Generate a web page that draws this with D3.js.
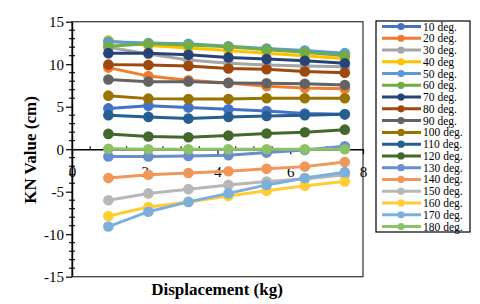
<!DOCTYPE html>
<html>
<head>
<meta charset="utf-8">
<script src="https://cdn.jsdelivr.net/npm/d3@7"></script>
<style>
  body { margin: 0; background: #fff; }
  text { font-family: "Liberation Serif", "Times New Roman", serif; }
</style>
</head>
<body>
<div id="chart"></div>
<script>
// displacement positions (kg)
var displacement = [1, 2.1, 3.2, 4.3, 5.35, 6.4, 7.5];

var seriesNames = ["10 deg.", "20 deg.", "30 deg.", "40 deg", "50 deg.", "60 deg.",
  "70 deg.", "80 deg.", "90 deg.", "100 deg.", "110 deg.", "120 deg.",
  "130 deg.", "140 deg.", "150 deg.", "160 deg.", "170 deg.", "180 deg."];

var seriesColors = ["#4472C4", "#ED7D31", "#A5A5A5", "#FFC000", "#5B9BD5", "#70AD47",
  "#264478", "#9E480E", "#636363", "#997300", "#255E91", "#43682B",
  "#698ED0", "#F1975A", "#B7B7B7", "#FFCD33", "#7CAFDD", "#8CC168"];

var deg10  = [4.8, 5.1, 4.9, 4.7, 4.5, 4.2, 4.1];
var deg20  = [9.6, 8.6, 8.1, 7.8, 7.4, 7.2, 7.1];
var deg30  = [12.0, 11.2, 10.5, 10.1, 9.9, 9.8, 9.7];
var deg40  = [12.8, 12.2, 11.9, 11.6, 11.3, 11.0, 10.65];
var deg50  = [12.65, 12.5, 12.4, 12.1, 11.85, 11.6, 11.3];
var deg60  = [12.1, 12.4, 12.25, 12.05, 11.7, 11.4, 11.0];
var deg70  = [11.3, 11.3, 11.1, 10.8, 10.6, 10.4, 10.1];
var deg80  = [9.95, 9.9, 9.8, 9.5, 9.4, 9.15, 9.0];
var deg90  = [8.2, 7.95, 7.95, 7.8, 7.75, 7.7, 7.55];
var deg100 = [6.3, 5.95, 5.9, 5.9, 6.0, 6.0, 6.0];
var deg110 = [4.0, 3.8, 3.6, 3.8, 3.9, 4.0, 4.1];
var deg120 = [1.8, 1.5, 1.4, 1.6, 1.85, 2.0, 2.3];
var deg130 = [-0.85, -0.85, -0.8, -0.7, -0.4, -0.1, 0.35];
var deg140 = [-3.4, -3.0, -2.8, -2.6, -2.3, -2.05, -1.5];
var deg150 = [-6.0, -5.2, -4.7, -4.2, -3.8, -3.5, -3.0];
var deg160 = [-7.85, -6.8, -6.2, -5.5, -4.9, -4.3, -3.8];
var deg170 = [-9.1, -7.35, -6.2, -5.2, -4.2, -3.4, -2.7];
var deg180 = [0.05, 0, 0, 0, 0, 0, 0];

var allValues = [deg10, deg20, deg30, deg40, deg50, deg60, deg70, deg80, deg90,
  deg100, deg110, deg120, deg130, deg140, deg150, deg160, deg170, deg180];

var xTicks = [0, 2, 4, 6, 8];
var yTicks = [-15, -10, -5, 0, 5, 10, 15];

var series = seriesNames.map(function(name, i) {
  return {
    name: name,
    color: seriesColors[i],
    points: displacement.map(function(d, j) { return {x: d, y: allValues[i][j]}; })
  };
});

var svg = d3.select("#chart").append("svg")
  .attr("width", 480)
  .attr("height", 304);

var plotLeft = 72, plotRight = 363, plotTop = 21.7, plotBottom = 276.7;

var x = d3.scaleLinear().domain([0, 8]).range([plotLeft, plotRight]);
var y = d3.scaleLinear().domain([-15, 15]).range([plotBottom, plotTop]);

// plot frame
svg.append("rect")
  .attr("x", plotLeft).attr("y", plotTop)
  .attr("width", plotRight - plotLeft).attr("height", plotBottom - plotTop)
  .attr("fill", "none")
  .attr("stroke", "#404040")
  .attr("stroke-width", 1.3);

// y axis
var yAxis = svg.append("g")
  .attr("transform", "translate(" + plotLeft + ",0)")
  .call(d3.axisLeft(y).tickValues(yTicks).tickSize(6).tickSizeOuter(0).tickPadding(2)
    .tickFormat(d3.format("d")));
yAxis.select(".domain").attr("stroke", "#000").attr("stroke-width", 1.5);
yAxis.selectAll(".tick line").attr("stroke", "#000").attr("stroke-width", 1.2);
yAxis.selectAll("text")
  .attr("font-family", "Liberation Serif")
  .attr("font-size", 15)
  .attr("fill", "#000")
  .text(function(d) { return d < 0 ? "-" + Math.abs(d) : d; });

// y minor ticks
svg.append("g").selectAll("line")
  .data(d3.range(-15, 16, 1).filter(function(v) { return v % 5 !== 0; }))
  .enter().append("line")
  .attr("x1", plotLeft - 3).attr("x2", plotLeft + 3)
  .attr("y1", function(d) { return y(d); })
  .attr("y2", function(d) { return y(d); })
  .attr("stroke", "#000")
  .attr("stroke-width", 1.1);

// x axis at zero
var xAxis = svg.append("g")
  .attr("transform", "translate(0," + y(0) + ")")
  .call(d3.axisBottom(x).tickValues(xTicks).tickSize(5).tickSizeOuter(0).tickPadding(12));
xAxis.select(".domain").attr("stroke", "#000").attr("stroke-width", 1.5);
xAxis.selectAll(".tick line").attr("stroke", "#000").attr("stroke-width", 1.2);
xAxis.selectAll("text")
  .attr("font-family", "Liberation Serif")
  .attr("font-size", 15)
  .attr("fill", "#000");

// x minor ticks
svg.append("g").selectAll("line")
  .data(d3.range(0.5, 8, 0.5).filter(function(v) { return v % 2 !== 0; }))
  .enter().append("line")
  .attr("x1", function(d) { return x(d); })
  .attr("x2", function(d) { return x(d); })
  .attr("y1", y(0) - 3).attr("y2", y(0))
  .attr("stroke", "#000")
  .attr("stroke-width", 1.1);

// lines and markers
var line = d3.line()
  .x(function(d) { return x(d.x); })
  .y(function(d) { return y(d.y); });

var groups = svg.append("g").selectAll(".series")
  .data(series)
  .enter().append("g")
  .attr("class", "series");

groups.append("path")
  .attr("d", function(d) { return line(d.points); })
  .attr("fill", "none")
  .attr("stroke", function(d) { return d.color; })
  .attr("stroke-width", 3);

groups.selectAll("circle")
  .data(function(d) { return d.points.map(function(p) { return {x: p.x, y: p.y, color: d.color}; }); })
  .enter().append("circle")
  .attr("cx", function(d) { return x(d.x); })
  .attr("cy", function(d) { return y(d.y); })
  .attr("r", 5.3)
  .attr("fill", function(d) { return d.color; });

// axis titles
svg.append("text")
  .attr("x", 217).attr("y", 295)
  .attr("text-anchor", "middle")
  .attr("font-size", 17)
  .attr("font-weight", "bold")
  .text("Displacement (kg)");

svg.append("text")
  .attr("transform", "translate(36,150) rotate(-90)")
  .attr("text-anchor", "middle")
  .attr("font-size", 17)
  .attr("font-weight", "bold")
  .text("KN Value (cm)");

// legend
var legend = svg.append("g");
legend.append("rect")
  .attr("x", 376).attr("y", 21)
  .attr("width", 94).attr("height", 211)
  .attr("fill", "#fff")
  .attr("stroke", "#000")
  .attr("stroke-width", 1.2);

var ly = d3.scalePoint().domain(seriesNames).range([26.5, 226.5]);

var items = legend.selectAll(".item")
  .data(series)
  .enter().append("g")
  .attr("class", "item")
  .attr("transform", function(d) { return "translate(0," + ly(d.name) + ")"; });

items.append("line")
  .attr("x1", 382).attr("x2", 421)
  .attr("stroke", function(d) { return d.color; })
  .attr("stroke-width", 3);
items.append("circle")
  .attr("cx", 401).attr("r", 3.6)
  .attr("fill", function(d) { return d.color; });
items.append("text")
  .attr("x", 423).attr("dy", "0.35em")
  .attr("font-size", 11.5)
  .text(function(d) { return d.name; });
</script>
</body>
</html>
